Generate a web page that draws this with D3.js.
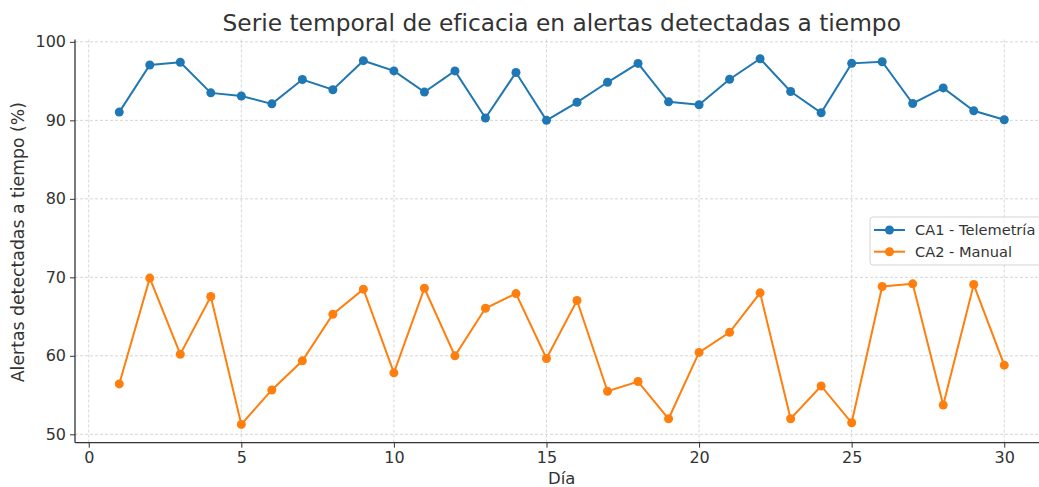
<!DOCTYPE html>
<html lang="es">
<head>
    <meta charset="UTF-8">
    <title>Serie temporal</title>
    <script src="https://d3js.org/d3.v7.min.js"></script>
    <style>
        body { margin: 0; background: #fff; }
        svg text { font-family: "DejaVu Sans", sans-serif; fill: #333; }
        .grid line { stroke: #cccccc; stroke-dasharray: 3,2; stroke-width: 0.8; }
    </style>
</head>
<body>
    <svg id="chart" width="1039" height="487"></svg>
    <script>
        // Datos
        var dias = d3.range(1, 31);
        var ca1 = [91.05, 97.05, 97.4, 93.5, 93.1, 92.1, 95.2, 93.9, 97.6, 96.3,
                   93.6, 96.3, 90.3, 96.1, 90.0, 92.3, 94.85, 97.25, 92.36, 91.98,
                   95.23, 97.85, 93.67, 90.97, 97.26, 97.47, 92.15, 94.13, 91.22, 90.08];
        var ca2 = [56.42, 69.9, 60.2, 67.55, 51.26, 55.65, 59.36, 65.29, 68.49, 57.83,
                   68.61, 60.0, 66.06, 67.93, 59.66, 67.04, 55.48, 56.72, 51.98, 60.43,
                   62.99, 68.02, 51.98, 56.16, 51.47, 68.83, 69.17, 53.73, 69.08, 58.81];
        var xTicks = [0, 5, 10, 15, 20, 25, 30];
        var yTicks = [50, 60, 70, 80, 90, 100];
        var series = [
            { nombre: "CA1 - Telemetría", valores: ca1, color: "#1f77b4" },
            { nombre: "CA2 - Manual", valores: ca2, color: "#ff7f0e" }
        ];

        var svg = d3.select("#chart");
        var mIzq = 75, mDer = 1048.5, mSup = 39.5, mInf = 442.7;

        var x = d3.scaleLinear().domain([-0.45, 31.45]).range([mIzq, mDer]);
        var y = d3.scaleLinear().domain([48.93, 100.3]).range([mInf, mSup]);

        // Rejilla
        var grid = svg.append("g").attr("class", "grid");
        grid.selectAll("line.vx").data(xTicks).join("line").attr("class", "vx")
            .attr("x1", d => x(d)).attr("x2", d => x(d))
            .attr("y1", mSup).attr("y2", mInf);
        grid.selectAll("line.hy").data(yTicks).join("line").attr("class", "hy")
            .attr("x1", mIzq).attr("x2", mDer)
            .attr("y1", d => y(d)).attr("y2", d => y(d));

        // Ejes
        var xAxis = svg.append("g").attr("transform", "translate(0," + mInf + ")")
            .call(d3.axisBottom(x).tickValues(xTicks).tickSize(5).tickPadding(4));
        var yAxis = svg.append("g").attr("transform", "translate(" + mIzq + ",0)")
            .call(d3.axisLeft(y).tickValues(yTicks).tickSize(5).tickPadding(4));
        [xAxis, yAxis].forEach(function(a) {
            a.select(".domain").attr("stroke", "#333").attr("stroke-width", 1.3);
            a.selectAll(".tick line").attr("stroke", "#333").attr("stroke-width", 1);
            a.selectAll(".tick text").attr("font-size", 16).attr("fill", "#333");
        });
        xAxis.select(".domain").attr("d", "M" + mIzq + ",0H" + mDer);
        yAxis.select(".domain").attr("d", "M0," + mInf + "V" + mSup);

        // Series
        var line = d3.line().x((d, i) => x(dias[i])).y(d => y(d));
        series.forEach(function(s) {
            var g = svg.append("g");
            g.append("path").datum(s.valores)
                .attr("d", line)
                .attr("fill", "none")
                .attr("stroke", s.color)
                .attr("stroke-width", 2);
            g.selectAll("circle").data(s.valores).join("circle")
                .attr("cx", (d, i) => x(dias[i]))
                .attr("cy", d => y(d))
                .attr("r", 4.5)
                .attr("fill", s.color);
        });

        // Títulos
        svg.append("text")
            .attr("x", (mIzq + mDer) / 2).attr("y", 31)
            .attr("text-anchor", "middle").attr("font-size", 23.3)
            .text("Serie temporal de eficacia en alertas detectadas a tiempo");
        svg.append("text")
            .attr("x", (mIzq + mDer) / 2).attr("y", 484)
            .attr("text-anchor", "middle").attr("font-size", 16.5)
            .text("Día");
        svg.append("text")
            .attr("transform", "translate(24," + ((mSup + mInf) / 2 + 1) + ") rotate(-90)")
            .attr("text-anchor", "middle").attr("font-size", 17.3)
            .text("Alertas detectadas a tiempo (%)");

        // Leyenda
        var leg = svg.append("g").attr("transform", "translate(870,217)");
        leg.append("rect")
            .attr("width", 185).attr("height", 48).attr("rx", 3)
            .attr("fill", "#fff").attr("fill-opacity", 0.8)
            .attr("stroke", "#d5d5d5");
        series.forEach(function(s, i) {
            var ry = 13 + i * 21.7;
            leg.append("line").attr("x1", 4).attr("x2", 35).attr("y1", ry).attr("y2", ry)
                .attr("stroke", s.color).attr("stroke-width", 2);
            leg.append("circle").attr("cx", 19.5).attr("cy", ry).attr("r", 4.5).attr("fill", s.color);
            leg.append("text").attr("x", 45).attr("y", ry + 5)
                .attr("font-size", 14.6).text(s.nombre);
        });
    </script>
</body>
</html>
